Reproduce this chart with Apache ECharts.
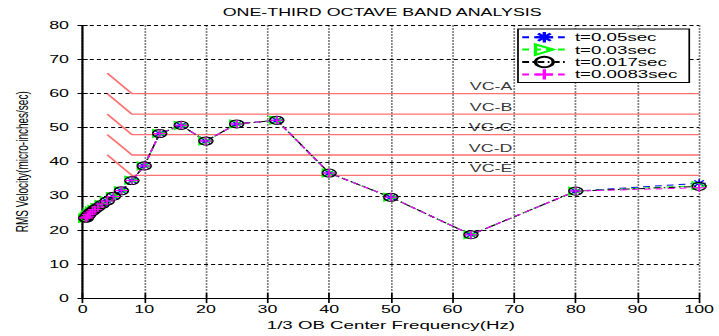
<!DOCTYPE html>
<html>
<head>
<meta charset="utf-8">
<script src="https://cdn.jsdelivr.net/npm/echarts@6/dist/echarts.min.js"></script>
<style>
  html, body { margin: 0; padding: 0; background: #fff; overflow: hidden; }
  #wrap { width: 719px; height: 336px; overflow: hidden; }
  #chart { width: 423px; height: 336px; transform: scaleX(1.7); transform-origin: 0 0; }
</style>
</head>
<body>
<div id="wrap"><div id="chart"></div></div>
<script>
// ---- data ----
const freqHz    = [0.5, 0.63, 0.8, 1, 1.25, 1.6, 2, 2.5, 3.15, 4, 5, 6.3, 8, 10, 12.5, 16, 20, 25, 31.5, 40, 50, 63, 80, 100];
const rmsT005   = [23.5, 23.5, 24, 24.5, 25, 25.5, 26, 26.7, 27.5, 28.5, 29.8, 31.5, 34.5, 38.8, 48.3, 50.7, 46.1, 51.1, 52.2, 36.7, 29.6, 18.6, 31.4, 33.7];
const rmsT003   = [23.4, 23.6, 24, 24.4, 25, 25.6, 26, 26.6, 27.5, 28.6, 29.8, 31.5, 34.6, 38.8, 48.3, 50.7, 46.1, 51.1, 52.2, 36.7, 29.6, 18.6, 31.4, 33.0];
const rmsT0017  = [23.5, 23.5, 24.1, 24.5, 25.1, 25.5, 26.1, 26.7, 27.5, 28.5, 29.9, 31.5, 34.5, 38.8, 48.3, 50.7, 46.1, 51.1, 52.2, 36.7, 29.6, 18.6, 31.4, 32.8];
const rmsT00083 = [23.6, 23.5, 24, 24.5, 25, 25.5, 26, 26.7, 27.6, 28.5, 29.8, 31.6, 34.5, 38.8, 48.3, 50.7, 46.1, 51.1, 52.2, 36.7, 29.6, 18.6, 31.4, 32.4];
const seriesNames = ['t=0.05sec', 't=0.03sec', 't=0.017sec', 't=0.0083sec'];

const vcNames  = ['VC-A', 'VC-B', 'VC-C', 'VC-D', 'VC-E'];
const vcLevels = [60, 54, 48, 42, 36];
const vcStartHz = 4;   // start of the sloped part
const vcKneeHz  = 8;   // where the criterion becomes flat
const vcEndHz   = 100;
const vcRise    = 6;   // level at start = level + rise
const vcLabelHz = 70;

const xMin = 0, xMax = 100, xStep = 10;
const yMin = 0, yMax = 80, yStep = 10;
// --------------------------------------

const FONT = 'Liberation Sans, Arial, sans-serif';
const chart = echarts.init(document.getElementById('chart'), null, { renderer: 'svg' });

function pairs(vals) { return freqHz.map((f, i) => [f, vals[i]]); }

const asterisk = 'path://M0,5L10,5M5,0L5,10M1.5,1.5L8.5,8.5M8.5,1.5L1.5,8.5';
const triRight = 'path://M0,0L10,5L0,10Z';
const plus = 'path://M0,5L10,5M5,0L5,10';

function dataSeries(name, vals, color, dash, symbol) {
  return {
    name: name, type: 'line', data: pairs(vals),
    symbol: symbol, symbolSize: 8, clip: false,
    lineStyle: { color: color, width: 1, type: dash },
    itemStyle: { color: 'rgba(0,0,0,0)', borderColor: color, borderWidth: 1 },
    emphasis: { disabled: true }, z: 5
  };
}

const series = [
  dataSeries(seriesNames[0], rmsT005, '#0000ff', [4, 3], asterisk),
  dataSeries(seriesNames[1], rmsT003, '#00ff00', [4, 3], triRight),
  dataSeries(seriesNames[2], rmsT0017, '#000000', [4, 2, 1, 2], 'circle'),
  dataSeries(seriesNames[3], rmsT00083, '#ff00ff', [4, 3], plus)
];

vcLevels.forEach((lvl, i) => {
  series.push({
    name: vcNames[i], type: 'line', silent: true, symbol: 'none',
    data: [[vcStartHz, lvl + vcRise], [vcKneeHz, lvl], [vcEndHz, lvl]],
    lineStyle: { color: '#ff7070', width: 1.3 }, z: 3
  });
});

series.push({
  type: 'scatter', silent: true, symbolSize: 0,
  data: vcLevels.map((lvl, i) => [vcLabelHz, lvl, vcNames[i]]),
  label: {
    show: true, position: 'left', distance: 1, offset: [0, -7],
    formatter: p => p.data[2], color: '#000', fontSize: 10.5, fontFamily: FONT
  }, z: 4
});

const axisCommonX = { type: 'value', min: xMin, max: xMax, interval: xStep };
const axisCommonY = { type: 'value', min: yMin, max: yMax, interval: yStep };

chart.setOption({
  animation: false,
  backgroundColor: '#fff',
  title: {
    text: 'ONE-THIRD OCTAVE BAND ANALYSIS', left: 131, top: 7, padding: 0,
    textStyle: { fontSize: 10.5, fontWeight: 'normal', color: '#000', fontFamily: FONT }
  },
  legend: {
    data: seriesNames, orient: 'vertical', left: 304.7, top: 29,
    padding: [2, 7, 2, 1.5], itemGap: 0, itemWidth: 26, itemHeight: 13,
    backgroundColor: '#fff', borderColor: '#000', borderWidth: 1, borderRadius: 0,
    textStyle: { fontSize: 11, color: '#000', fontFamily: FONT }
  },
  grid: { left: 40.3, right: 10, top: 25.5, bottom: 35, containLabel: false },
  xAxis: [
    Object.assign({}, axisCommonX, {
      position: 'bottom',
      name: '1/3 OB Center Frequency(Hz)', nameLocation: 'middle', nameGap: 18,
      nameTextStyle: { fontSize: 11, color: '#000', fontFamily: FONT },
      axisLine: { show: true, lineStyle: { color: '#000', width: 1 } },
      axisTick: { show: true, inside: true, length: 5, lineStyle: { color: '#000' } },
      axisLabel: { margin: 6, fontSize: 10.5, color: '#000', fontFamily: FONT },
      splitLine: { show: true, lineStyle: { color: '#000', width: 1, type: [1, 2] } }
    }),
    Object.assign({}, axisCommonX, {
      position: 'top',
      axisLine: { show: true, lineStyle: { color: '#000', width: 1 } },
      axisTick: { show: true, inside: true, length: 5, lineStyle: { color: '#000' } },
      axisLabel: { show: false }, splitLine: { show: false }
    })
  ],
  yAxis: [
    Object.assign({}, axisCommonY, {
      position: 'left',
      name: 'RMS Velocity(micro-inches/sec)', nameLocation: 'middle', nameGap: 22,
      nameTextStyle: { fontSize: 10, color: '#000', fontFamily: FONT },
      axisLine: { show: true, lineStyle: { color: '#000', width: 1 } },
      axisTick: { show: true, inside: true, length: 3, lineStyle: { color: '#000' } },
      axisLabel: { margin: 8, fontSize: 10.5, color: '#000', fontFamily: FONT },
      splitLine: { show: true, lineStyle: { color: '#000', width: 1, type: [2.4, 1.8] } }
    }),
    Object.assign({}, axisCommonY, {
      position: 'right',
      axisLine: { show: true, lineStyle: { color: '#000', width: 1 } },
      axisTick: { show: true, inside: true, length: 3, lineStyle: { color: '#000' } },
      axisLabel: { show: false }, splitLine: { show: false }
    })
  ],
  series: series
});
</script>
</body>
</html>
